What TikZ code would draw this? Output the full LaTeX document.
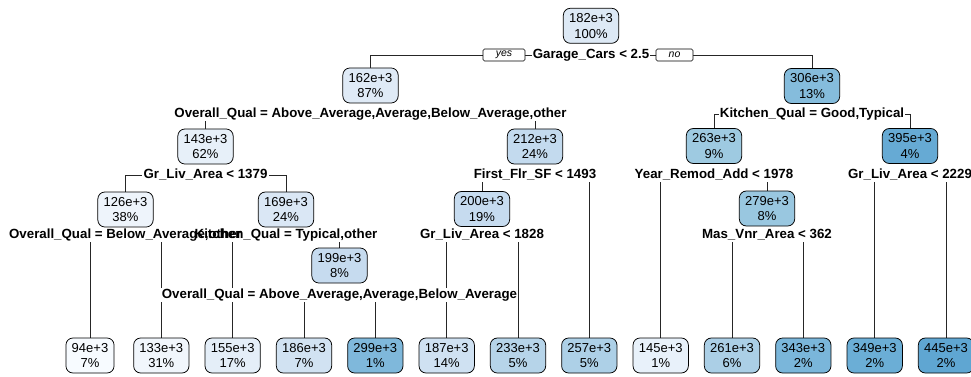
\documentclass[tikz,border=0pt]{standalone}
\usepackage{fontspec}
\setmainfont{Liberation Sans}
\usetikzlibrary{positioning}
\pgfdeclarelayer{bg}
\pgfdeclarelayer{mid}
\pgfsetlayers{bg,mid,main}
\definecolor{c094}{HTML}{F7FBFF}
\definecolor{c126}{HTML}{EEF4FB}
\definecolor{c133}{HTML}{F1F6FC}
\definecolor{c143}{HTML}{E7F0F9}
\definecolor{c145}{HTML}{E8F1FA}
\definecolor{c155}{HTML}{E4EEF8}
\definecolor{c162}{HTML}{DFEAF6}
\definecolor{c169}{HTML}{DAE7F5}
\definecolor{c182}{HTML}{DDE9F5}
\definecolor{c186}{HTML}{D1E2F2}
\definecolor{c187}{HTML}{CFE1F2}
\definecolor{c199}{HTML}{C6DBEF}
\definecolor{c200}{HTML}{C6DBEF}
\definecolor{c212}{HTML}{C3DAEE}
\definecolor{c233}{HTML}{B6D4E9}
\definecolor{c257}{HTML}{ADD0E7}
\definecolor{c261}{HTML}{ABCFE6}
\definecolor{c263}{HTML}{9ECAE1}
\definecolor{c279}{HTML}{99C7E0}
\definecolor{c299}{HTML}{7FB8DB}
\definecolor{c306}{HTML}{85BCDC}
\definecolor{c343}{HTML}{7AB6DA}
\definecolor{c349}{HTML}{6BAED6}
\definecolor{c395}{HTML}{66AAD4}
\definecolor{c445}{HTML}{5FA6D2}
\begin{document}
\begin{tikzpicture}[x=1pt,y=-1pt,
  box/.style={draw=black, line width=0.75pt, rounded corners=7pt, align=center,
    font=\fontsize{13}{15.5}\selectfont, inner xsep=5.8pt, inner ysep=2pt, minimum height=35pt},
  lbl/.style={font=\fontsize{13.3}{15}\selectfont\bfseries, inner sep=1pt, text height=9.6pt, text depth=2.8pt},
  yn/.style={draw=black, line width=0.6pt, rounded corners=1.5pt, fill=white,
    font=\fontsize{10.5}{12}\selectfont\itshape, minimum height=12pt, inner sep=0pt},
  conn/.style={draw=black!85, line width=0.8pt},
]
\useasboundingbox (0,0) rectangle (971,377);

% internal nodes
\node[box, fill=c182] (n182) at (591,25.8) {182e+3\\100\%};
\node[box, fill=c162] (n162) at (370.5,85.5) {162e+3\\87\%};
\node[box, fill=c306] (n306) at (812,86) {306e+3\\13\%};
\node[box, fill=c143] (n143) at (205.5,146.5) {143e+3\\62\%};
\node[box, fill=c212] (n212) at (535,146.5) {212e+3\\24\%};
\node[box, fill=c263] (n263) at (714,146) {263e+3\\9\%};
\node[box, fill=c395] (n395) at (910,146) {395e+3\\4\%};
\node[box, fill=c126] (n126) at (125.5,209.5) {126e+3\\38\%};
\node[box, fill=c169] (n169) at (286,209.5) {169e+3\\24\%};
\node[box, fill=c200] (n200) at (482,209) {200e+3\\19\%};
\node[box, fill=c279] (n279) at (767,208.5) {279e+3\\8\%};
\node[box, fill=c199] (n199) at (339.5,265.5) {199e+3\\8\%};

% leaves
\node[box, fill=c094] (l0) at (90,355.5) {94e+3\\7\%};
\node[box, fill=c133] (l1) at (161.3,355.5) {133e+3\\31\%};
\node[box, fill=c155] (l2) at (232.7,355.5) {155e+3\\17\%};
\node[box, fill=c186] (l3) at (304,355.5) {186e+3\\7\%};
\node[box, fill=c299] (l4) at (375.3,355.5) {299e+3\\1\%};
\node[box, fill=c187] (l5) at (446.7,355.5) {187e+3\\14\%};
\node[box, fill=c233] (l6) at (518,355.5) {233e+3\\5\%};
\node[box, fill=c257] (l7) at (589.3,355.5) {257e+3\\5\%};
\node[box, fill=c145] (l8) at (660.7,355.5) {145e+3\\1\%};
\node[box, fill=c261] (l9) at (732,355.5) {261e+3\\6\%};
\node[box, fill=c343] (l10) at (803.3,355.5) {343e+3\\2\%};
\node[box, fill=c349] (l11) at (874.7,355.5) {349e+3\\2\%};
\node[box, fill=c445] (l12) at (946,355.5) {445e+3\\2\%};

% split labels
\node[lbl] (s182) at (591,55) {Garage\_Cars < 2.5};
\node[yn, minimum width=42pt] (yes) at (504,55) {yes};
\node[yn, minimum width=37pt] (no) at (674.5,55) {no};
\node[lbl] (s162) at (370.5,114) {Overall\_Qual = Above\_Average,Average,Below\_Average,other};
\node[lbl] (s306) at (812,114) {Kitchen\_Qual = Good,Typical};
\node[lbl] (s143) at (205.5,175) {Gr\_Liv\_Area < 1379};
\node[lbl] (s212) at (535,175) {First\_Flr\_SF < 1493};
\node[lbl] (s263) at (714,175) {Year\_Remod\_Add < 1978};
\node[lbl] (s395) at (910,175) {Gr\_Liv\_Area < 2229};
\node[lbl] (s126) at (125.5,235) {Overall\_Qual = Below\_Average,other};
\node[lbl] (s169) at (286,235) {Kitchen\_Qual = Typical,other};
\node[lbl] (s200) at (482,235) {Gr\_Liv\_Area < 1828};
\node[lbl] (s279) at (767,235) {Mas\_Vnr\_Area < 362};
\node[lbl] (s199) at (339.5,295) {Overall\_Qual = Above\_Average,Average,Below\_Average};

\begin{pgfonlayer}{mid}
\foreach \s in {s182,s162,s306,s143,s212,s263,s395,s126,s169,s200,s279,s199}
  \fill[white] (\s.south west) rectangle (\s.north east);
\end{pgfonlayer}

\begin{pgfonlayer}{bg}
\draw[conn] (yes.west) -| (n162.north);
\draw[conn] (yes.east) -- (s182.west);
\draw[conn] (s182.east) -- (no.west);
\draw[conn] (no.east) -| (n306.north);
\draw[conn] (n143.north |- s162.south) -- (n143.north);
\draw[conn] (n212.north |- s162.south) -- (n212.north);
\draw[conn] (s306.west) -| (n263.north);
\draw[conn] (s306.east) -| (n395.north);
\draw[conn] (s143.west) -| (n126.north);
\draw[conn] (s143.east) -| (n169.north);
\draw[conn] (n200.north |- s212.south) -- (n200.north);
\draw[conn] (l7.north |- s212.south) -- (l7.north);
\draw[conn] (l8.north |- s263.south) -- (l8.north);
\draw[conn] (n279.north |- s263.south) -- (n279.north);
\draw[conn] (l11.north |- s395.south) -- (l11.north);
\draw[conn] (l12.north |- s395.south) -- (l12.north);
\draw[conn] (l0.north |- s126.south) -- (l0.north);
\draw[conn] (l1.north |- s126.south) -- (l1.north);
\draw[conn] (l2.north |- s169.south) -- (l2.north);
\draw[conn] (n199.north |- s169.south) -- (n199.north);
\draw[conn] (l5.north |- s200.south) -- (l5.north);
\draw[conn] (l6.north |- s200.south) -- (l6.north);
\draw[conn] (l9.north |- s279.south) -- (l9.north);
\draw[conn] (l10.north |- s279.south) -- (l10.north);
\draw[conn] (l3.north |- s199.south) -- (l3.north);
\draw[conn] (l4.north |- s199.south) -- (l4.north);
\end{pgfonlayer}
\end{tikzpicture}
\end{document}
